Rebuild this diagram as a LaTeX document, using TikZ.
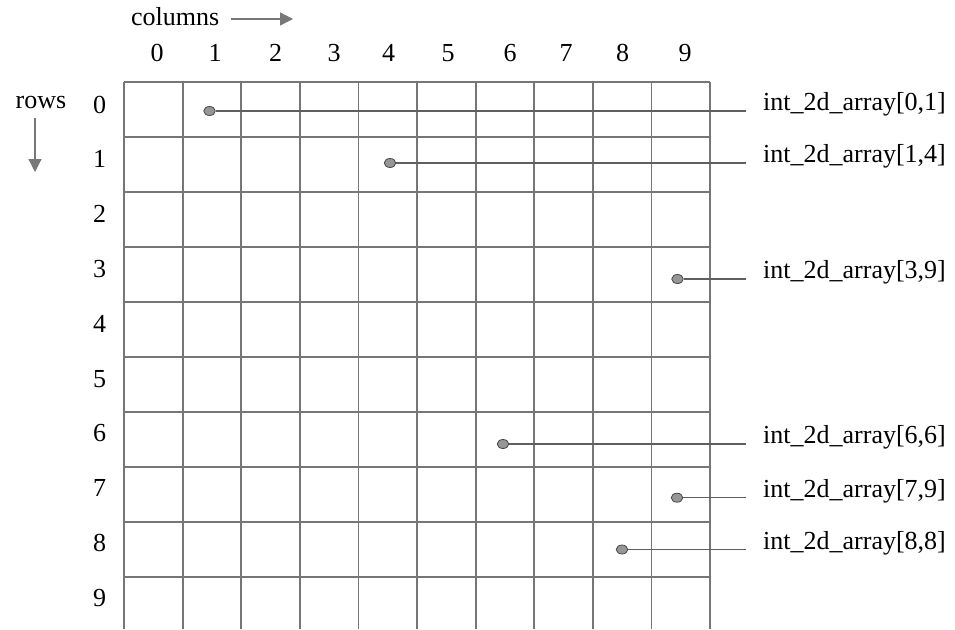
\documentclass[tikz,border=0pt]{standalone}
\usepackage{fontspec}
\setmainfont{Liberation Serif}
\usetikzlibrary{shapes.geometric,arrows.meta}
\definecolor{gridc}{RGB}{118,118,118}
\definecolor{leadc}{RGB}{95,95,95}
\definecolor{dotfill}{RGB}{150,150,150}
\definecolor{dotline}{RGB}{70,70,70}
\definecolor{arrc}{RGB}{120,120,120}
\tikzset{
  txt/.style={inner sep=0pt, font=\fontsize{26}{30}\selectfont, text=black},
  gridline/.style={draw=gridc, line width=1.8pt},
  leader/.style={draw=leadc, line width=1.1pt},
  cell/.style={ellipse, draw=dotline, fill=dotfill, line width=0.8pt, minimum width=11.5pt, minimum height=9pt, inner sep=0pt},
  axisarrow/.style={draw=arrc, line width=1.2pt, -{Triangle[length=13pt,width=13pt]}}
}
\begin{document}
\begin{tikzpicture}[x=1pt,y=-1pt]
\useasboundingbox (0,0) rectangle (955,629);
% grid
\foreach \i in {0,...,10} {
  \draw[gridline] ({124+58.6*\i},81.7) -- ({124+58.6*\i},629);
}
\foreach \j in {0,...,9} {
  \draw[gridline] (124,{81.7+55*\j}) -- (710,{81.7+55*\j});
}
% column numbers
\foreach \n/\x in {0/157,1/215,2/275.5,3/334,4/388.5,5/448,6/510,7/566,8/622.5,9/685} {
  \node[txt, anchor=base] (c\n) at (\x,61.7) {\n};
}
% row numbers
\foreach \n in {0,...,9} {
  \node[txt, anchor=base] (r\n) at (99.5,{113+54.8*\n}) {\n};
}
% axis captions
\node[txt, anchor=base west] (cols) at (131,25) {columns};
\coordinate (colsend) at (293,19);
\draw[axisarrow] (cols.east |- colsend) ++(11,0) coordinate (colsstart) -- (colsend);
\node[txt, anchor=base west] (rows) at (15.5,108) {rows};
\coordinate (rowsstart) at (35,118);
\coordinate (rowsend) at (35,172);
\draw[axisarrow] (rowsstart) -- (rowsend);
% elements
\foreach \k/\x/\y/\lab in {a/209.5/111/{0,1},b/390/163/{1,4},c/677.5/279/{3,9},d/503/444/{6,6},e/677/497.7/{7,9},f/622/549.5/{8,8}} {
  \node[cell] (dot\k) at (\x,\y) {};
  \coordinate (end\k) at (746,\y);
  \node[txt, anchor=base west] (lab\k) at (763,\y-0.5) {int\_2d\_array[\lab]};
  \draw[leader] (dot\k) -- (end\k);
}
\end{tikzpicture}
\end{document}
